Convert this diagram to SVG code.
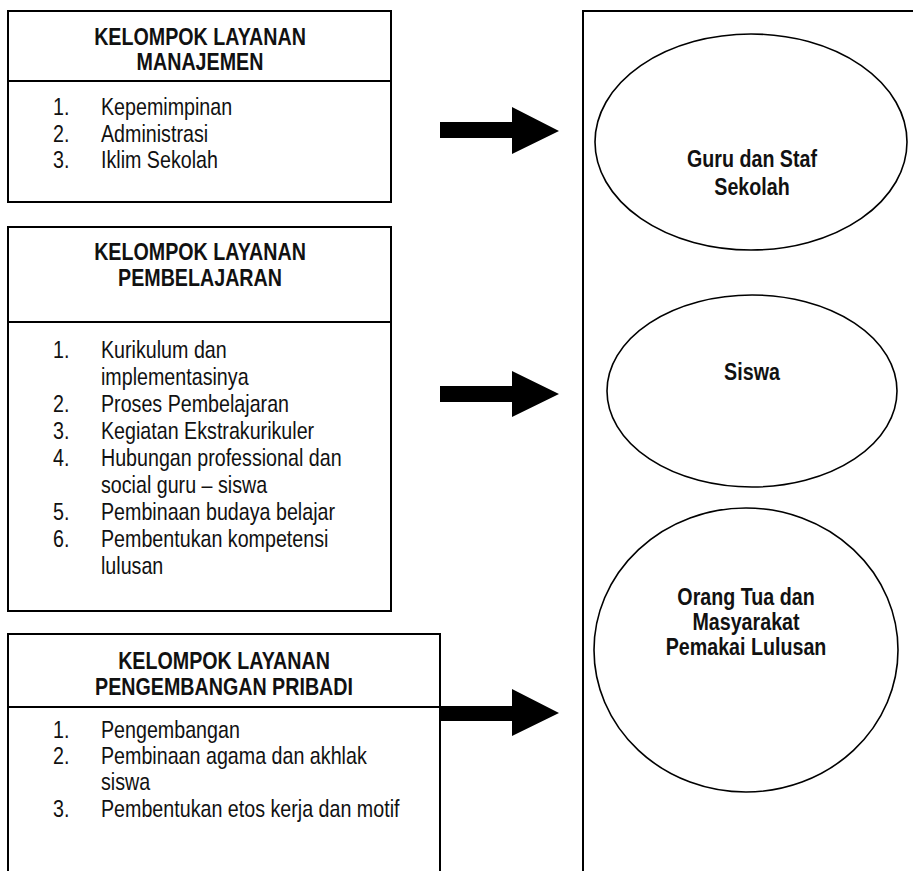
<svg xmlns="http://www.w3.org/2000/svg" width="913" height="871" viewBox="0 0 913 871">
<style>
.box{fill:none;stroke:#000;stroke-width:2}
.ell{fill:#fff;stroke:#000;stroke-width:1.6}
.t{font-family:"Liberation Sans Narrow","Liberation Sans",Arial,sans-serif;font-size:24px;fill:#111}
.h{font-weight:bold;text-anchor:middle}
.arr{fill:#000}
</style>
<rect width="913" height="871" fill="#fff"/>
<g id="box-manajemen">
<rect class="box" x="8" y="11" width="383" height="191"/>
<line class="box" x1="8" y1="81" x2="391" y2="81"/>
<text class="t h" transform="matrix(0.82 0 0 1 200 0)" x="0" y="45">KELOMPOK LAYANAN</text>
<text class="t h" transform="matrix(0.82 0 0 1 200 0)" x="0" y="70">MANAJEMEN</text>
<text class="t" transform="matrix(0.82 0 0 1 53 0)"><tspan x="0" y="115">1.</tspan><tspan x="58.5" y="115">Kepemimpinan</tspan><tspan x="0" y="142">2.</tspan><tspan x="58.5" y="142">Administrasi</tspan><tspan x="0" y="168">3.</tspan><tspan x="58.5" y="168">Iklim Sekolah</tspan></text>
</g>
<g id="box-pembelajaran">
<rect class="box" x="8" y="227" width="383" height="384"/>
<line class="box" x1="8" y1="322" x2="391" y2="322"/>
<text class="t h" transform="matrix(0.82 0 0 1 200 0)" x="0" y="260">KELOMPOK LAYANAN</text>
<text class="t h" transform="matrix(0.82 0 0 1 200 0)" x="0" y="286">PEMBELAJARAN</text>
<text class="t" transform="matrix(0.82 0 0 1 53 0)"><tspan x="0" y="358">1.</tspan><tspan x="58.5" y="358">Kurikulum dan</tspan><tspan x="58.5" y="385">implementasinya</tspan><tspan x="0" y="412">2.</tspan><tspan x="58.5" y="412">Proses Pembelajaran</tspan><tspan x="0" y="439">3.</tspan><tspan x="58.5" y="439">Kegiatan Ekstrakurikuler</tspan><tspan x="0" y="466">4.</tspan><tspan x="58.5" y="466">Hubungan professional dan</tspan><tspan x="58.5" y="493">social guru – siswa</tspan><tspan x="0" y="520">5.</tspan><tspan x="58.5" y="520">Pembinaan budaya belajar</tspan><tspan x="0" y="547">6.</tspan><tspan x="58.5" y="547">Pembentukan kompetensi</tspan><tspan x="58.5" y="574">lulusan</tspan></text>
</g>
<g id="box-pengembangan">
<path class="box" d="M8,872 V634 H440 V872"/>
<line class="box" x1="8" y1="707" x2="440" y2="707"/>
<text class="t h" transform="matrix(0.82 0 0 1 224 0)" x="0" y="669">KELOMPOK LAYANAN</text>
<text class="t h" transform="matrix(0.82 0 0 1 224 0)" x="0" y="695">PENGEMBANGAN PRIBADI</text>
<text class="t" transform="matrix(0.82 0 0 1 53 0)"><tspan x="0" y="738">1.</tspan><tspan x="58.5" y="738">Pengembangan</tspan><tspan x="0" y="764">2.</tspan><tspan x="58.5" y="764">Pembinaan agama dan akhlak</tspan><tspan x="58.5" y="790">siswa</tspan><tspan x="0" y="817">3.</tspan><tspan x="58.5" y="817">Pembentukan etos kerja dan motif</tspan></text>
</g>
<g id="panel-sasaran">
<path class="box" d="M914,11 H583 V872"/>
</g>
<g id="ell-guru">
<ellipse class="ell" cx="751" cy="142" rx="156" ry="108"/>
<text class="t h" transform="matrix(0.82 0 0 1 752 0)" x="0" y="167">Guru dan Staf</text>
<text class="t h" transform="matrix(0.82 0 0 1 752 0)" x="0" y="195">Sekolah</text>
</g>
<g id="ell-siswa">
<ellipse class="ell" cx="752" cy="391" rx="145" ry="96"/>
<text class="t h" transform="matrix(0.82 0 0 1 752 0)" x="0" y="380">Siswa</text>
</g>
<g id="ell-orangtua">
<ellipse class="ell" cx="746" cy="650" rx="152" ry="142"/>
<text class="t h" transform="matrix(0.82 0 0 1 746 0)" x="0" y="605">Orang Tua dan</text>
<text class="t h" transform="matrix(0.82 0 0 1 746 0)" x="0" y="630">Masyarakat</text>
<text class="t h" transform="matrix(0.82 0 0 1 746 0)" x="0" y="655">Pemakai Lulusan</text>
</g>
<g id="connectors">
<polygon class="arr" points="440,122 512,122 512,107 559,131 512,154 512,138 440,138"/>
<polygon class="arr" points="440,386 512,386 512,371 559,394 512,417 512,402 440,402"/>
<polygon class="arr" points="440,706 512,706 512,689 559,713 512,736 512,721 440,721"/>
</g>
</svg>
